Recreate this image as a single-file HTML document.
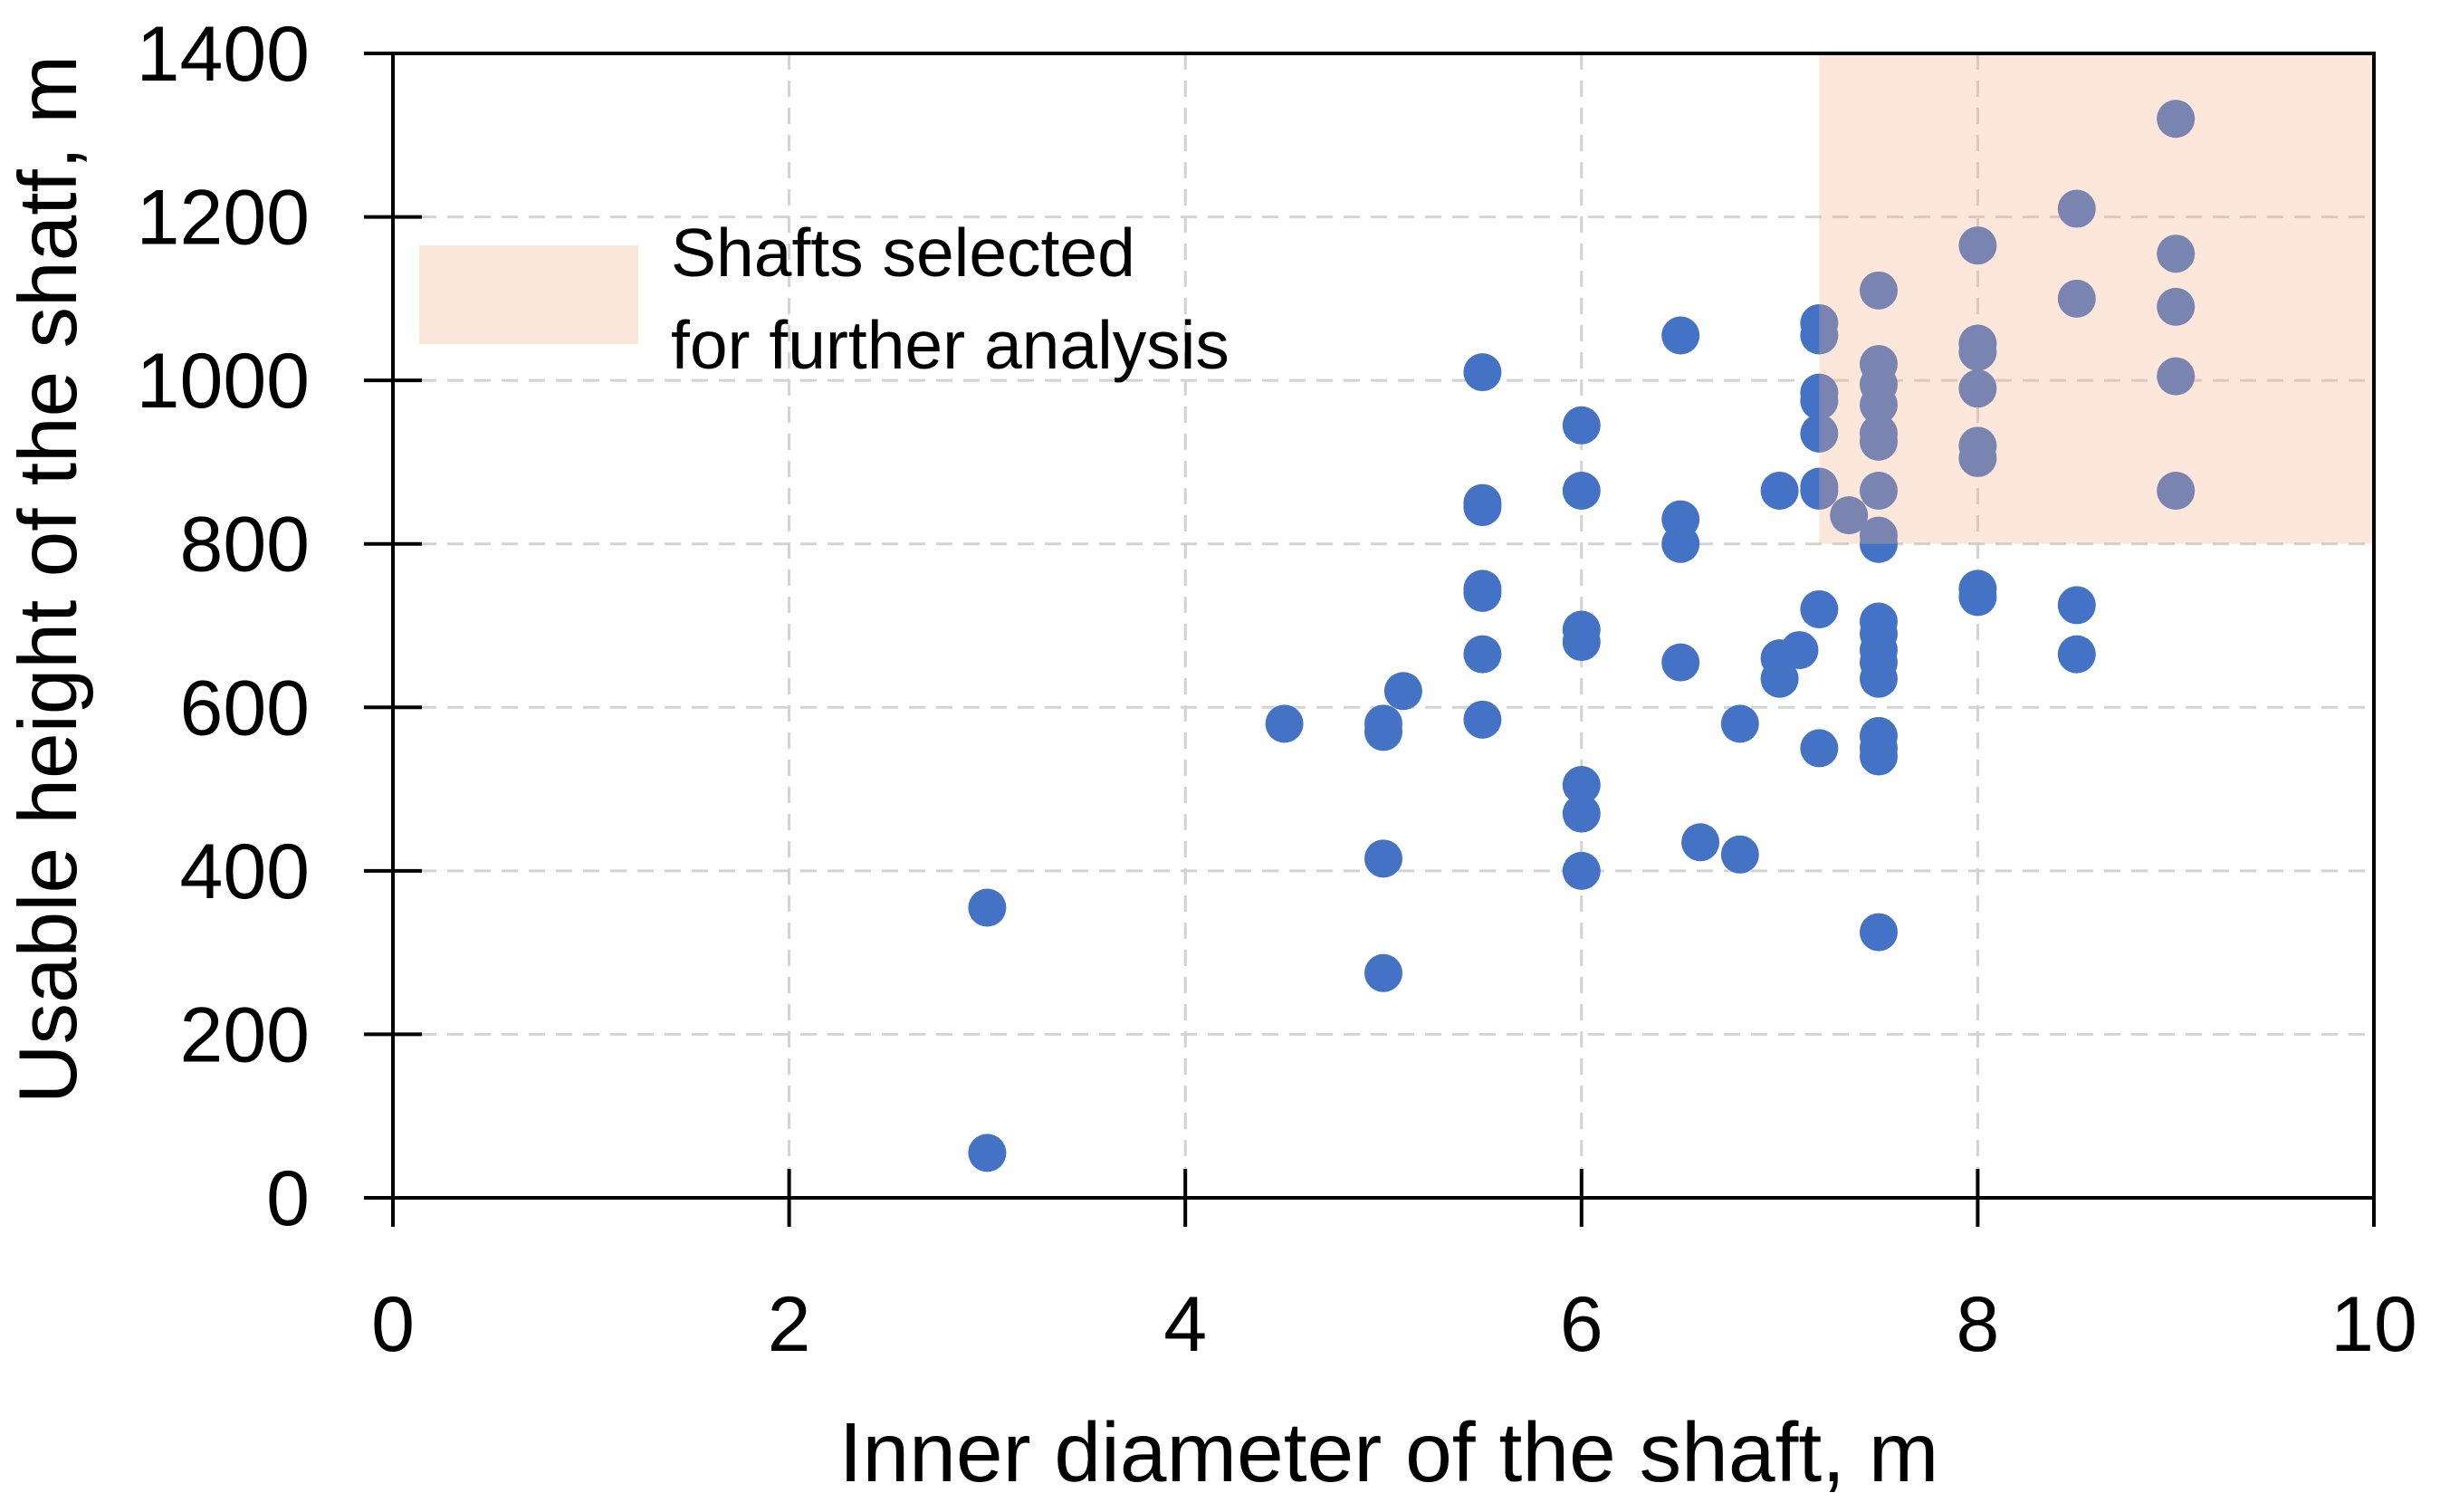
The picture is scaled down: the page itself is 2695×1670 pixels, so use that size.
<!DOCTYPE html>
<html><head><meta charset="utf-8"><style>
html,body{margin:0;padding:0;background:#fff}
svg{display:block;font-family:"Liberation Sans",sans-serif}
</style></head><body>
<svg id="chart" width="2695" height="1670"></svg>
<script>
const xVals=[3,3,4.5,5,5,5,5,5.1,5.5,5.5,5.5,5.5,5.5,5.5,5.5,6,6,6,6,6,6,6,6.5,6.5,6.5,6.5,6.6,6.8,6.8,7,7,7,7.1,7.2,7.2,7.2,7.2,7.2,7.2,7.2,7.2,7.2,7.35,7.5,7.5,7.5,7.5,7.5,7.5,7.5,7.5,7.5,7.5,7.5,7.5,7.5,7.5,7.5,7.5,7.5,7.5,8,8,8,8,8,8,8,8,8.5,8.5,8.5,8.5,9,9,9,9,9];
const yVals=[355,55,580,580,570,415,275,620,1010,850,845,745,740,665,585,945,865,695,680,505,470,400,1055,830,800,655,435,420,580,865,660,635,670,1070,1055,985,975,935,870,865,720,550,835,1110,1020,995,970,935,925,865,810,800,705,690,670,655,635,565,550,540,325,1165,1045,1035,990,920,905,745,735,1210,1100,725,665,1320,1155,1090,1005,865];
const xTicks=[0,2,4,6,8,10];
const yTicks=[0,200,400,600,800,1000,1200,1400];
const region=[7.2,10,800,1400];
const NS='http://www.w3.org/2000/svg';
const svg=document.getElementById('chart');
const L=434,R=2622,T=59,B=1323;
const sx=v=>L+(v-0)/(10-0)*(R-L);
const sy=v=>B-(v-0)/(1400-0)*(B-T);
function mk(tag,attrs,parent){const e=document.createElementNS(NS,tag);for(const k in attrs)e.setAttribute(k,attrs[k]);(parent||svg).appendChild(e);return e;}
xTicks.slice(1,-1).forEach(t=>{const g=mk('line',{x1:sx(t),x2:sx(t),y1:T,y2:B,stroke:'#d3d3d3','stroke-width':3,'stroke-dasharray':'18,12'});

});
yTicks.slice(1,-1).forEach(t=>{const g=mk('line',{x1:L,x2:R,y1:sy(t),y2:sy(t),stroke:'#d3d3d3','stroke-width':3,'stroke-dasharray':'18,12'});

});
xVals.forEach((x,i)=>{const c=mk('circle',{cx:sx(x),cy:sy(yVals[i]),r:21,fill:'#4472c4'});

});
const rg=mk('rect',{x:sx(region[0]),y:sy(region[3]),width:sx(region[1])-sx(region[0]),height:sy(region[2])-sy(region[3]),fill:'#f4b183','fill-opacity':0.3});


const fr=mk('rect',{x:L,y:T,width:R-L,height:B-T,fill:'none',stroke:'#000','stroke-width':4});


xTicks.forEach(t=>{mk('line',{x1:sx(t),x2:sx(t),y1:B-32,y2:B+32,stroke:'#000','stroke-width':4});
const tx=mk('text',{x:sx(t),y:1492,'text-anchor':'middle','font-size':86,fill:'#000'});tx.textContent=t;

});
yTicks.forEach(t=>{mk('line',{x1:L-32,x2:L+32,y1:sy(t),y2:sy(t),stroke:'#000','stroke-width':4});
const tx=mk('text',{x:342,y:sy(t)+30,'text-anchor':'end','font-size':86,fill:'#000'});tx.textContent=t;

});
</script>
<svg style="position:absolute;left:0;top:0" width="2695" height="1670">
<g font-family="Liberation Sans, sans-serif" fill="#000">
<text x="1534" y="1636" text-anchor="middle" font-size="93">Inner diameter of the shaft, m</text>
<text transform="translate(84,640) rotate(-90)" text-anchor="middle" font-size="91">Usable height of the shatf, m</text>
<g>
<rect x="463" y="271" width="242" height="109" fill="#fbe7da"/>
<text x="741" y="305" font-size="75">Shafts selected</text>
<text x="741" y="407" font-size="75">for further analysis</text>
</g></g></svg>
</body></html>
